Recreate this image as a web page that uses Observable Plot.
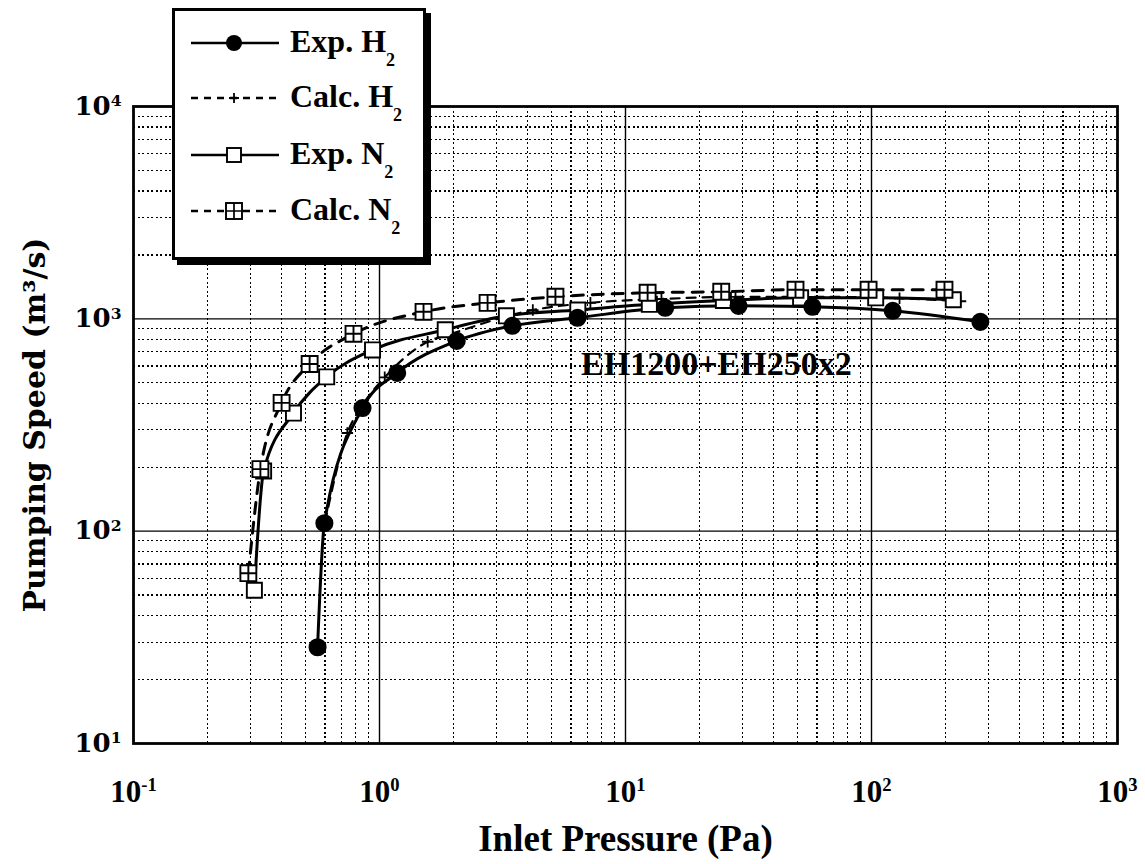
<!DOCTYPE html>
<html>
<head>
<meta charset="utf-8">
<script src="https://cdn.jsdelivr.net/npm/d3@7"></script>
<script src="https://cdn.jsdelivr.net/npm/@observablehq/plot@0.6"></script>
<style>
  body { margin: 0; background: #fff; }
  #wrap { position: relative; width: 1145px; height: 864px; }
  #legend { position: absolute; left: 172px; top: 8px; width: 248px; height: 246px;
            border: 3px solid #000; background: #fff; box-shadow: 5px 5px 0 #000; }
  .lrow { position: absolute; left: 0; width: 248px; height: 40px; }
  .lrow svg { position: absolute; left: 14px; top: 0; }
  .lrow span { position: absolute; left: 115px; top: 0; line-height: 40px;
               font: bold 32px "Liberation Serif", serif; white-space: nowrap; }
  .lrow sub { font-size: 18px; vertical-align: -14px; }
</style>
</head>
<body>
<div id="wrap"><div id="chart"></div><div id="legend"></div></div>
<script>
// ---- data ----
const expH2Pressure  = [0.56, 0.597, 0.853, 1.18, 2.06, 3.47, 6.38, 14.5, 28.8, 57.5, 122, 277];
const expH2Speed     = [28.4, 109, 380, 556, 787, 927, 1011, 1127, 1151, 1140, 1091, 968];

const calcH2Pressure = [0.6, 0.74, 0.85, 1.05, 1.57, 1.9, 4.2, 7.2, 14, 28, 55, 130, 230];
const calcH2Speed    = [110, 290, 390, 530, 780, 840, 1100, 1190, 1240, 1270, 1270, 1250, 1210];

const expN2Pressure  = [0.31, 0.338, 0.447, 0.61, 0.937, 1.85, 3.28, 6.4, 12.5, 25, 51.5, 104, 215];
const expN2Speed     = [52.7, 192, 360, 533, 714, 888, 1033, 1100, 1170, 1220, 1256, 1256, 1230];

const calcN2Pressure = [0.293, 0.328, 0.40, 0.52, 0.784, 1.51, 2.75, 5.19, 12.3, 24.5, 49.1, 97.3, 198];
const calcN2Speed    = [63.4, 196, 402, 613, 850, 1079, 1189, 1270, 1327, 1341, 1371, 1371, 1371];

const xTicks = [0.1, 1, 10, 100, 1000];
const xTickExponents = ["-1", "0", "1", "2", "3"];
const yTicks = [10, 100, 1000, 10000];
const yTickExponents = ["1", "2", "3", "4"];

const seriesNames = ["Exp. H", "Calc. H", "Exp. N", "Calc. N"];
const xTitle = "Inlet Pressure (Pa)";
const yTitle = "Pumping Speed (m³/s)";
const annotation = [{p: 6.6, s: 610, text: "EH1200+EH250x2"}];

// ---- build tables ----
const zipT = (ps, ss) => ps.map((p, i) => ({p, s: ss[i]}));
const expH2 = zipT(expH2Pressure, expH2Speed);
const calcH2 = zipT(calcH2Pressure, calcH2Speed);
const expN2 = zipT(expN2Pressure, expN2Speed);
const calcN2 = zipT(calcN2Pressure, calcN2Speed);

const minorX = [];
for (const d of xTicks.slice(0, -1)) for (let k = 2; k < 10; k++) minorX.push(d * k);
const minorY = [];
for (const d of yTicks.slice(0, -1)) for (let k = 2; k < 10; k++) minorY.push(d * k);

// custom symbols
const boxPlus = {draw(ctx, size) { const s = Math.sqrt(size) / 2;
  ctx.moveTo(-s, -s); ctx.lineTo(s, -s); ctx.lineTo(s, s); ctx.lineTo(-s, s); ctx.closePath();
  ctx.moveTo(-s, 0); ctx.lineTo(s, 0); ctx.moveTo(0, -s); ctx.lineTo(0, s); }};
const thinPlus = {draw(ctx, size) { const s = Math.sqrt(size) / 2;
  ctx.moveTo(-s, 0); ctx.lineTo(s, 0); ctx.moveTo(0, -s); ctx.lineTo(0, s); }};

const plot = Plot.plot({
  width: 1145, height: 864,
  marginTop: 106, marginBottom: 121, marginLeft: 133, marginRight: 28,
  style: {background: "#fff", color: "#000"},
  x: {type: "log", domain: [0.1, 1000]},
  y: {type: "log", domain: [10, 10000]},
  marks: [
    Plot.ruleX(minorX, {stroke: "#000", strokeWidth: 1.2, strokeDasharray: "2,2.5", shapeRendering: "crispEdges"}),
    Plot.ruleY(minorY, {stroke: "#000", strokeWidth: 1.2, strokeDasharray: "2,2.5", shapeRendering: "crispEdges"}),
    Plot.ruleX(xTicks.slice(1, -1), {stroke: "#000", strokeWidth: 1.4}),
    Plot.ruleY(yTicks.slice(1, -1), {stroke: "#000", strokeWidth: 1.4}),
    Plot.axisX({ticks: xTicks, tickSize: 0, tickPadding: 36, label: null,
      tickFormat: d => xTickExponents[xTicks.indexOf(d)],
      fontSize: 31, fontFamily: "Liberation Serif", fontWeight: "bold"}),
    Plot.axisY({ticks: yTicks, tickSize: 0, tickPadding: 12, label: null,
      tickFormat: d => yTickExponents[yTicks.indexOf(d)],
      fontSize: 26, fontFamily: "DejaVu Serif", fontWeight: "bold"}),
    Plot.text([xTitle], {frameAnchor: "bottom", dy: 107, fontSize: 37,
      fontFamily: "Liberation Serif", fontWeight: "bold", fill: "#000"}),
    Plot.text([yTitle], {frameAnchor: "left", textAnchor: "middle", dx: -98, rotate: -90, fontSize: 30,
      fontFamily: "DejaVu Serif", fontWeight: "bold", fill: "#000"}),
    // lines
    Plot.line(calcH2, {x: "p", y: "s", curve: "monotone-x", stroke: "#000", strokeWidth: 2.2, strokeDasharray: "9,7"}),
    Plot.line(calcN2, {x: "p", y: "s", curve: "monotone-x", stroke: "#000", strokeWidth: 3, strokeDasharray: "11,9"}),
    Plot.line(expN2, {x: "p", y: "s", curve: "monotone-x", stroke: "#000", strokeWidth: 3}),
    Plot.line(expH2, {x: "p", y: "s", curve: "monotone-x", stroke: "#000", strokeWidth: 3}),
    // markers
    Plot.dot(calcH2, {x: "p", y: "s", symbol: thinPlus, r: 6.5, stroke: "#000", strokeWidth: 1.8}),
    Plot.dot(expN2, {x: "p", y: "s", symbol: "square", r: 8.5, fill: "#fff", stroke: "#000", strokeWidth: 1.9}),
    Plot.dot(calcN2, {x: "p", y: "s", symbol: boxPlus, r: 9, fill: "#fff", stroke: "#000", strokeWidth: 1.9}),
    Plot.dot(expH2, {x: "p", y: "s", symbol: "circle", r: 8.3, fill: "#000", stroke: "#000"}),
    Plot.text(annotation, {x: "p", y: "s", text: "text", textAnchor: "start", fontSize: 34,
      fontFamily: "Liberation Serif", fontWeight: "bold", fill: "#000"}),
    Plot.frame({stroke: "#000", strokeWidth: 2.8})
  ]
});

// superscript exponents on tick labels
d3.select(plot).selectAll('g[aria-label="x-axis tick label"] text, g[aria-label="y-axis tick label"] text')
  .each(function() {
    const e = this.textContent;
    const t = d3.select(this);
    t.text(null);
    t.append("tspan").text("10");
    t.append("tspan").attr("dy", "-0.55em").attr("font-size", "0.6em").text(e);
  });
document.getElementById("chart").appendChild(plot);

// legend
const legendDefs = [
  {dash: null, sym: "circle"},
  {dash: "7,6", sym: "plus"},
  {dash: null, sym: "square"},
  {dash: "7,6", sym: "boxplus"}
];
const rowTops = [12, 67, 124, 180];
const legend = document.getElementById("legend");
legendDefs.forEach((d, i) => {
  const row = document.createElement("div");
  row.className = "lrow";
  row.style.top = rowTops[i] + "px";
  let sym = "";
  const cx = 45, cy = 20;
  if (d.sym === "circle") sym = `<circle cx="${cx}" cy="${cy}" r="8" fill="#000"/>`;
  if (d.sym === "plus") sym = `<path d="M${cx-5},${cy}H${cx+5}M${cx},${cy-5}V${cy+5}" stroke="#000" stroke-width="1.8"/>`;
  if (d.sym === "square") sym = `<rect x="${cx-7}" y="${cy-7}" width="14" height="14" fill="#fff" stroke="#000" stroke-width="1.9"/>`;
  if (d.sym === "boxplus") sym = `<rect x="${cx-8}" y="${cy-8}" width="16" height="16" fill="#fff" stroke="#000" stroke-width="1.9"/><path d="M${cx-8},${cy}H${cx+8}M${cx},${cy-8}V${cy+8}" stroke="#000" stroke-width="1.7"/>`;
  row.innerHTML = `<svg width="92" height="40"><line x1="2" x2="90" y1="${cy}" y2="${cy}" stroke="#000" stroke-width="2.6" ${d.dash ? `stroke-dasharray="${d.dash}"` : ""}/>${sym}</svg><span>${seriesNames[i]}<sub>2</sub></span>`;
  legend.appendChild(row);
});
</script>
</body>
</html>
